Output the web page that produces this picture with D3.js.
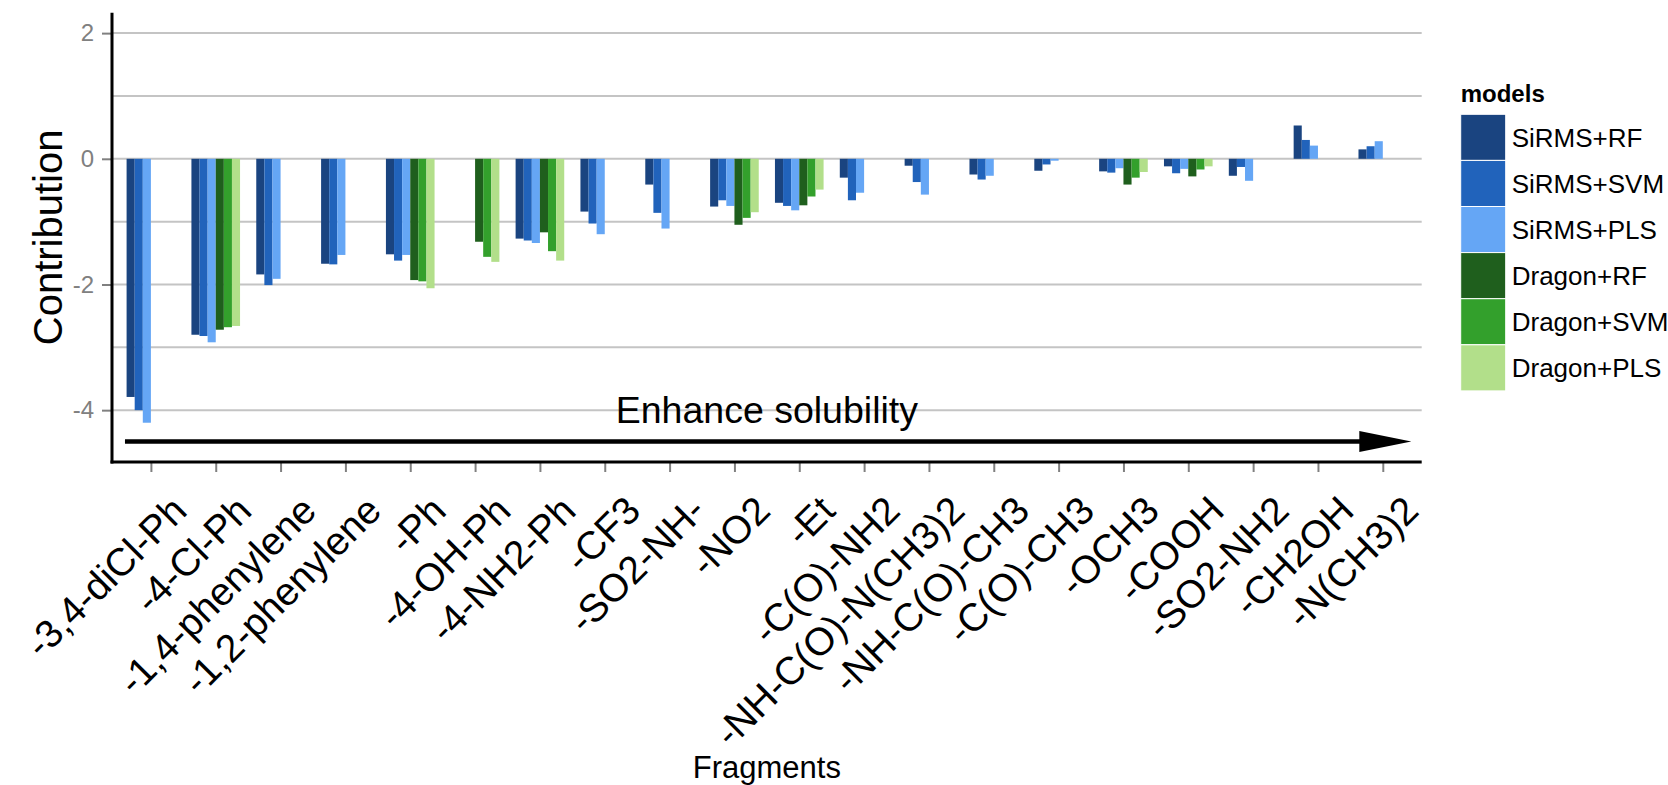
<html>
<meta charset='utf-8'>
<head>
    <script src="https://d3js.org/d3.v7.min.js"></script>
    <style>
      body { margin: 0; background: #fff; }
      text { font-family: "Liberation Sans", Arial, sans-serif; }
    </style>
</head>
<body>
<div id='viz'></div>
<script>
    // fragments along the x axis
    let fragments = ["-3,4-diCl-Ph", "-4-Cl-Ph", "-1,4-phenylene", "-1,2-phenylene", "-Ph",
      "-4-OH-Ph", "-4-NH2-Ph", "-CF3", "-SO2-NH-", "-NO2", "-Et", "-C(O)-NH2",
      "-NH-C(O)-N(CH3)2", "-NH-C(O)-CH3", "-C(O)-CH3", "-OCH3", "-COOH", "-SO2-NH2",
      "-CH2OH", "-N(CH3)2"];

    let models = ["SiRMS+RF", "SiRMS+SVM", "SiRMS+PLS", "Dragon+RF", "Dragon+SVM", "Dragon+PLS"];
    let modelColors = ["#1a4480", "#2163bb", "#65a6f5", "#1f5f1d", "#33a02c", "#b2df8a"];

    // contribution per model (null = no bar)
    let sirmsRF  = [-3.79, -2.80, -1.84, -1.67, -1.52, null, -1.27, -0.84, -0.41, -0.76, -0.70, -0.30, -0.11, -0.25, -0.19, -0.20, -0.12, -0.27, 0.53, 0.15];
    let sirmsSVM = [-4.00, -2.82, -2.01, -1.68, -1.62, null, -1.30, -1.03, -0.86, -0.66, -0.75, -0.66, -0.37, -0.33, -0.09, -0.22, -0.23, -0.13, 0.30, 0.20];
    let sirmsPLS = [-4.20, -2.92, -1.91, -1.53, -1.53, null, -1.34, -1.20, -1.11, -0.75, -0.82, -0.54, -0.57, -0.27, -0.03, -0.15, -0.16, -0.35, 0.21, 0.28];
    let dragonRF  = [null, -2.72, null, null, -1.93, -1.32, -1.17, null, null, -1.05, -0.74, null, null, null, null, -0.41, -0.28, null, null, null];
    let dragonSVM = [null, -2.68, null, null, -1.95, -1.56, -1.47, null, null, -0.94, -0.60, null, null, null, null, -0.30, -0.17, null, null, null];
    let dragonPLS = [null, -2.66, null, null, -2.06, -1.64, -1.62, null, null, -0.85, -0.49, null, null, null, null, -0.21, -0.12, null, null, null];

    let yTicks = [-4, -2, 0, 2];
    let yGrid = [-4, -3, -2, -1, 0, 1, 2];
    let yLimits = [-4.5, 2];

    // arrow along the bottom, in category units (1 = first fragment)
    let arrowFrom = [0.6, -4.5];
    let arrowTo = [20.44, -4.5];
    let arrowLabel = "Enhance solubility";
    let arrowLabelPos = [10.5, -4.2];

    function createViz() {
        let seriesList = [sirmsRF, sirmsSVM, sirmsPLS, dragonRF, dragonSVM, dragonPLS];

        let width = 1668, height = 785;
        let left = 112, right = 1421.7, top = 12.7, bottom = 462;

        let svg = d3.select('#viz').append('svg')
                    .attr('width', width)
                    .attr('height', height);

        let x = d3.scalePoint().domain(fragments).range([left, right]).padding(0.6);
        let step = x.step();
        // category index -> pixel
        let xNum = d3.scaleLinear().domain([1, fragments.length]).range([x(fragments[0]), x(fragments[fragments.length - 1])]);

        let pad = (yLimits[1] - yLimits[0]) * 0.05;
        let y = d3.scaleLinear().domain([yLimits[0] - pad, yLimits[1] + pad]).range([bottom, top]);

        let groupWidth = 0.75 * step;
        let xInner = d3.scaleBand().domain(models).range([-groupWidth / 2, groupWidth / 2]);

        // grid
        svg.append('g').selectAll('line')
           .data(yGrid)
           .join('line')
           .attr('x1', left).attr('x2', right)
           .attr('y1', d => y(d)).attr('y2', d => y(d))
           .attr('stroke', '#c4c4c4')
           .attr('stroke-width', 2);

        // bars
        let rows = [];
        fragments.forEach((f, i) => {
            models.forEach((m, j) => {
                let v = seriesList[j][i];
                if (v !== null) rows.push({frag: f, model: m, value: v, color: modelColors[j]});
            });
        });

        svg.append('g').selectAll('rect')
           .data(rows)
           .join('rect')
           .attr('x', d => x(d.frag) + xInner(d.model))
           .attr('width', xInner.bandwidth())
           .attr('y', d => y(Math.max(0, d.value)))
           .attr('height', d => Math.abs(y(d.value) - y(0)))
           .attr('fill', d => d.color);

        // arrow
        let ax1 = xNum(arrowFrom[0]), ax2 = xNum(arrowTo[0]), ay = y(arrowFrom[1]);
        let headLen = 52, headHalf = 10.5;
        svg.append('line')
           .attr('x1', ax1).attr('x2', ax2 - headLen + 2)
           .attr('y1', ay).attr('y2', ay)
           .attr('stroke', '#000')
           .attr('stroke-width', 4.5);
        svg.append('path')
           .attr('d', `M${ax2},${ay} L${ax2 - headLen},${ay - headHalf} L${ax2 - headLen},${ay + headHalf} Z`)
           .attr('fill', '#000');

        svg.append('text')
           .attr('x', xNum(arrowLabelPos[0]))
           .attr('y', y(arrowLabelPos[1]))
           .attr('text-anchor', 'middle')
           .attr('font-size', '37.5px')
           .attr('fill', '#000')
           .text(arrowLabel);

        // y axis
        let yAxis = svg.append('g').attr('transform', `translate(${left},0)`)
           .call(d3.axisLeft(y).tickValues(yTicks).tickSize(10).tickPadding(8).tickFormat(d => String(d)));
        yAxis.select('.domain').remove();
        yAxis.selectAll('.tick line').attr('stroke', '#808080').attr('stroke-width', 2);
        yAxis.selectAll('.tick text')
             .attr('fill', '#808080')
             .attr('font-size', '24px')
             .attr('font-family', '"Liberation Sans", Arial, sans-serif');

        // x axis
        let xAxis = svg.append('g').attr('transform', `translate(0,${bottom})`)
           .call(d3.axisBottom(x).tickSize(10).tickFormat(''));
        xAxis.select('.domain').remove();
        xAxis.selectAll('.tick line').attr('stroke', '#808080').attr('stroke-width', 2);

        svg.append('g').selectAll('text')
           .data(fragments)
           .join('text')
           .attr('transform', d => `translate(${x(d) + 18},${bottom + 31}) rotate(-45)`)
           .attr('text-anchor', 'end')
           .attr('dy', '0.72em')
           .attr('font-size', '39px')
           .attr('fill', '#000')
           .text(d => d);

        // axis lines
        svg.append('line')
           .attr('x1', left).attr('x2', left)
           .attr('y1', top).attr('y2', bottom + 1.5)
           .attr('stroke', '#000').attr('stroke-width', 3);
        svg.append('line')
           .attr('x1', left - 1.5).attr('x2', right)
           .attr('y1', bottom).attr('y2', bottom)
           .attr('stroke', '#000').attr('stroke-width', 3);

        // axis titles
        svg.append('text')
           .attr('transform', `translate(61.5,${(top + bottom) / 2}) rotate(-90)`)
           .attr('text-anchor', 'middle')
           .attr('font-size', '40px')
           .text('Contribution');

        svg.append('text')
           .attr('x', (left + right) / 2)
           .attr('y', 778)
           .attr('text-anchor', 'middle')
           .attr('font-size', '31px')
           .text('Fragments');

        // legend
        let keySize = 46.1;
        let legend = svg.append('g').attr('transform', 'translate(1460.7,114.3)');
        legend.append('text')
              .attr('x', 0).attr('y', -12.6)
              .attr('font-size', '24px')
              .attr('font-weight', 'bold')
              .text('models');
        let items = legend.selectAll('g.item')
              .data(models)
              .join('g')
              .attr('class', 'item')
              .attr('transform', (d, i) => `translate(0,${i * keySize})`);
        items.append('rect')
             .attr('width', 45).attr('height', keySize)
             .attr('fill', (d, i) => modelColors[i])
             .attr('stroke', '#fff').attr('stroke-width', 1);
        items.append('text')
             .attr('x', 51).attr('y', keySize / 2)
             .attr('dy', '0.36em')
             .attr('font-size', '26px')
             .text(d => d);
    }

    createViz();
</script>
</body>
</html>
